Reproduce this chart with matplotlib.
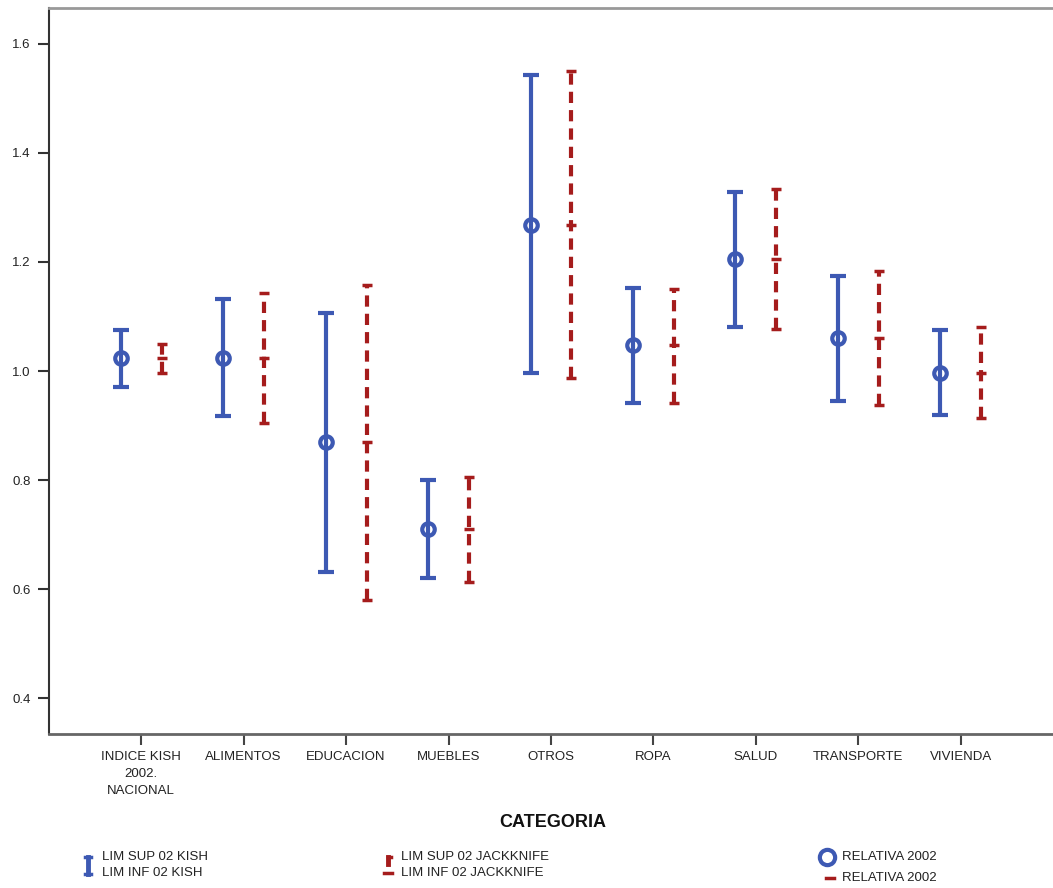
import numpy as np
import matplotlib.pyplot as plt
from matplotlib.lines import Line2D

plt.rcParams['font.family'] = ['Liberation Sans', 'DejaVu Sans']

categorias = ['INDICE KISH\n2002.\nNACIONAL', 'ALIMENTOS', 'EDUCACION', 'MUEBLES', 'OTROS',
              'ROPA', 'SALUD', 'TRANSPORTE', 'VIVIENDA']

relativa = [1.024, 1.024, 0.870, 0.710, 1.268, 1.048, 1.206, 1.060, 0.997]
kish_sup = [1.075, 1.132, 1.106, 0.800, 1.543, 1.152, 1.328, 1.174, 1.075]
kish_inf = [0.971, 0.917, 0.631, 0.620, 0.996, 0.941, 1.081, 0.945, 0.919]
jack_sup = [1.050, 1.143, 1.158, 0.805, 1.550, 1.150, 1.334, 1.183, 1.081]
jack_inf = [0.996, 0.905, 0.580, 0.613, 0.987, 0.941, 1.077, 0.937, 0.914]

azul = '#3d59b3'
rojo = '#a51c1c'

fig = plt.figure(figsize=(10.53, 8.88), dpi=100)
ax = fig.add_axes([49/1053, 1 - 734/888, 1 - 49/1053, (734 - 8)/888])

x = np.arange(len(categorias))
xb = x - 0.2
xr = x + 0.2

# kish: solid blue bars with circles
ax.vlines(xb, kish_inf, kish_sup, color=azul, lw=3)
ax.plot(xb, kish_sup, '_', color=azul, ms=11, mew=3)
ax.plot(xb, kish_inf, '_', color=azul, ms=11, mew=3)
ax.plot(xb, relativa, 'o', color=azul, ms=9, mfc='none', mew=3)

# jackknife: dashed red bars
ax.vlines(xr, jack_inf, jack_sup, color=rojo, lw=3, linestyles=(0, (2.7, 1.7)))
ax.plot(xr, jack_sup, '_', color=rojo, ms=7, mew=2.5)
ax.plot(xr, jack_inf, '_', color=rojo, ms=7, mew=2.5)
ax.plot(xr, relativa, '_', color=rojo, ms=7, mew=2.5)

ax.set_xlim(-0.9, 8.9)
ax.set_ylim(0.334, 1.666)
ax.set_yticks([0.4, 0.6, 0.8, 1.0, 1.2, 1.4, 1.6])
ax.set_yticklabels(['0.4', '0.6', '0.8', '1.0', '1.2', '1.4', '1.6'])
ax.set_xticks(x)
ax.set_xticklabels(categorias, fontsize=9.5, color='#222222', linespacing=1.6)
ax.tick_params(axis='y', labelsize=9.5, length=8, width=1.5, color='#333333',
               labelcolor='#222222', pad=5)
ax.tick_params(axis='x', length=8, width=1.5, color='#444444', pad=4)

ax.spines['right'].set_visible(False)
ax.spines['left'].set_color('#333333')
ax.spines['left'].set_linewidth(1.5)
ax.spines['bottom'].set_color('#666666')
ax.spines['bottom'].set_linewidth(2)
ax.spines['top'].set_color('#999999')
ax.spines['top'].set_linewidth(2)

fig.text(553/1053, 1 - 822/888, 'CATEGORIA', ha='center', va='center',
         fontsize=13, fontweight='bold', color='#111111')

# legend at the bottom
def fy(py):
    return 1 - py / 888

fs = 9.5
fig.add_artist(Line2D([88/1053, 88/1053], [fy(857), fy(874)], color=azul, lw=3.5))
fig.add_artist(Line2D([85/1053, 91/1053], [fy(857), fy(857)], color=azul, lw=2.5))
fig.add_artist(Line2D([85/1053, 91/1053], [fy(874), fy(874)], color=azul, lw=2.5))
fig.text(102/1053, fy(857), 'LIM SUP 02 KISH', fontsize=fs, va='center', color='#222222')
fig.text(102/1053, fy(873), 'LIM INF 02 KISH', fontsize=fs, va='center', color='#222222')

fig.add_artist(Line2D([388/1053, 388/1053], [fy(857), fy(864)], color=rojo, lw=3.5))
fig.add_artist(Line2D([388/1053, 391/1053], [fy(857), fy(857)], color=rojo, lw=2.5))
fig.add_artist(Line2D([384/1053, 392/1053], [fy(873), fy(873)], color=rojo, lw=2.5))
fig.text(401/1053, fy(857), 'LIM SUP 02 JACKKNIFE', fontsize=fs, va='center', color='#222222')
fig.text(401/1053, fy(873), 'LIM INF 02 JACKKNIFE', fontsize=fs, va='center', color='#222222')

fig.add_artist(Line2D([827/1053], [fy(857)], marker='o', ms=11, mfc='none', mec=azul, mew=3))
fig.text(842/1053, fy(857), 'RELATIVA 2002', fontsize=fs, va='center', color='#222222')
fig.add_artist(Line2D([826/1053, 834/1053], [fy(878), fy(878)], color=rojo, lw=2.5))
fig.text(842/1053, fy(878), 'RELATIVA 2002', fontsize=fs, va='center', color='#222222')

fig.savefig('out.png', dpi=100)
